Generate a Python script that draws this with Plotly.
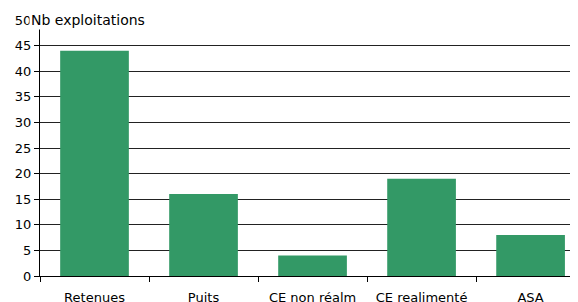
import plotly.graph_objects as go

categories = ["Retenues", "Puits", "CE non réalm", "CE realimenté", "ASA"]
values = [44, 16, 4, 19, 8]
y_ticks = [0, 5, 10, 15, 20, 25, 30, 35, 40, 45, 50]

fig = go.Figure(go.Bar(x=categories, y=values, marker_color="#339966",
                       marker_line_width=0, width=0.63))

# page body has an 8px margin, so the figure is sized to fit the 578x302 window
fig.update_layout(
    width=570, height=294,
    margin=dict(l=32, r=0, t=12, b=26, autoexpand=False),
    paper_bgcolor="white", plot_bgcolor="white",
    showlegend=False,
    font=dict(family="DejaVu Sans", size=13, color="black"),
)
fig.update_xaxes(
    type="category", range=[-0.5, 4.435],
    tickson="boundaries", ticks="outside", ticklen=5, tickcolor="black",
    showline=True, linecolor="black", linewidth=1,
    showgrid=False, automargin=False, ticklabelstandoff=9,
    tickfont=dict(size=13, family="DejaVu Sans"),
)
fig.update_yaxes(
    range=[0, 50], tickvals=y_ticks, ticks="outside", ticklen=5, tickcolor="black",
    showline=True, linecolor="black", linewidth=1,
    showgrid=True, gridcolor="#222222", gridwidth=1,
    zeroline=False, automargin=False,
    tickfont=dict(size=13, family="DejaVu Sans"),
)
fig.add_annotation(
    text="Nb exploitations", xref="paper", yref="paper",
    x=-11/538, y=1.0, xanchor="left", yanchor="middle",
    showarrow=False, bgcolor="white",
    font=dict(family="DejaVu Sans", size=14, color="black"),
)
fig.write_html("out.html")
